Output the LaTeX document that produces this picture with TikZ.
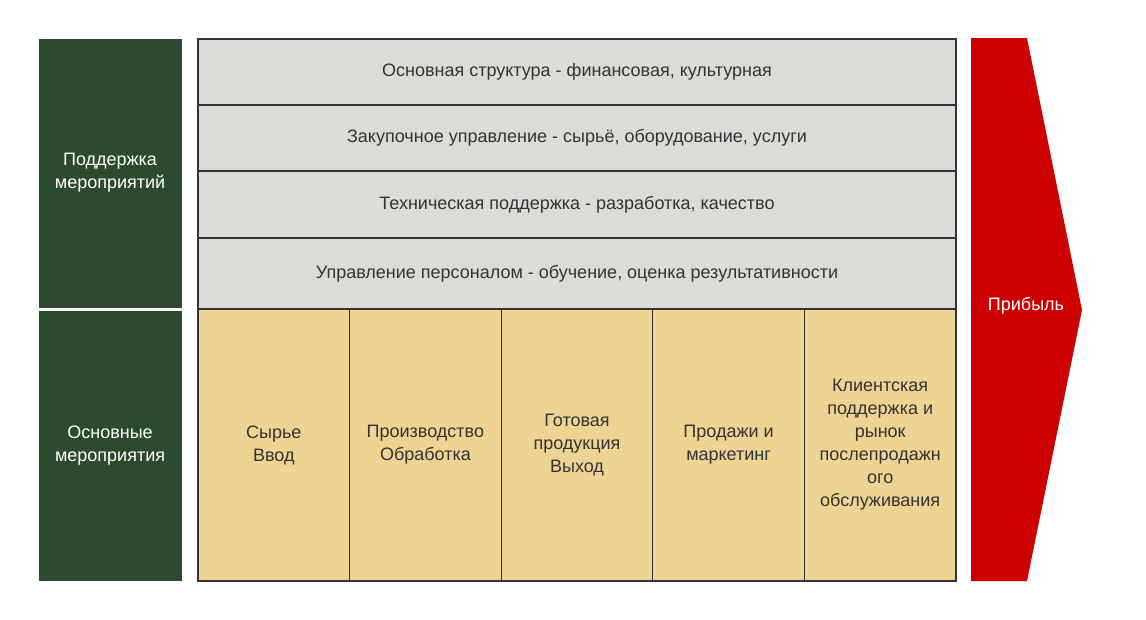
\documentclass[tikz,border=0pt]{standalone}
\usepackage{fontspec}
\setmainfont{Liberation Sans}
\usetikzlibrary{positioning}
\definecolor{mrgreen}{HTML}{2C4A2E}
\definecolor{mrgrey}{HTML}{DCDBD7}
\definecolor{mryellow}{HTML}{EDD492}
\definecolor{mrred}{HTML}{CC0000}
\definecolor{mrline}{HTML}{333333}
\begin{document}
\begin{tikzpicture}[
  x=0.75pt, y=-0.75pt,
  side/.style={rectangle, fill=mrgreen, text=white, align=center, minimum width=107.25pt, inner sep=0pt},
  row/.style={rectangle, draw=mrline, fill=mrgrey, text=mrline, minimum width=568.5pt, inner sep=0pt, outer sep=0pt},
  cell/.style={rectangle, draw=mrline, fill=mryellow, text=mrline, align=center, minimum width=113.7pt, minimum height=204pt, inner sep=0pt, outer sep=0pt},
  line width=0.8pt,
  font=\fontsize{13.5}{17.25}\selectfont
]
\useasboundingbox (0,0) rectangle (1146,619);

% left labels
\node[side, minimum height=201.75pt, anchor=north west] (support) at (38,38) {Поддержка\\мероприятий};
\node[side, minimum height=202.5pt, anchor=north west] (primary) at (38,310) {Основные\\мероприятия};

% support activities
\node[row, minimum height=49.5pt, anchor=north west] (infra) at (198,39) {Основная структура - финансовая, культурная};
\node[row, minimum height=49.5pt, below=0pt of infra] (procure) {Закупочное управление - сырьё, оборудование, услуги};
\node[row, minimum height=50.25pt, below=0pt of procure] (tech) {Техническая поддержка - разработка, качество};
\node[row, minimum height=53.25pt, below=0pt of tech] (hr) {Управление персоналом - обучение, оценка результативности};

% primary activities
\node[cell, anchor=north west] (inbound) at (198,309) {Сырье\\Ввод};
\node[cell, right=0pt of inbound] (ops) {Производство\\Обработка};
\node[cell, right=0pt of ops] (outbound) {Готовая\\продукция\\Выход};
\node[cell, right=0pt of outbound] (sales) {Продажи и\\маркетинг};
\node[cell, right=0pt of sales] (service) {Клиентская\\поддержка и\\рынок\\послепродажн\\ого\\обслуживания};

% margin arrow
\fill[mrred] (971,38) -- (1027,38) -- (1082,310) -- (1027,581) -- (971,581) -- cycle;
\node[text=white] (profit) at (1026,306) {Прибыль};
\end{tikzpicture}
\end{document}
